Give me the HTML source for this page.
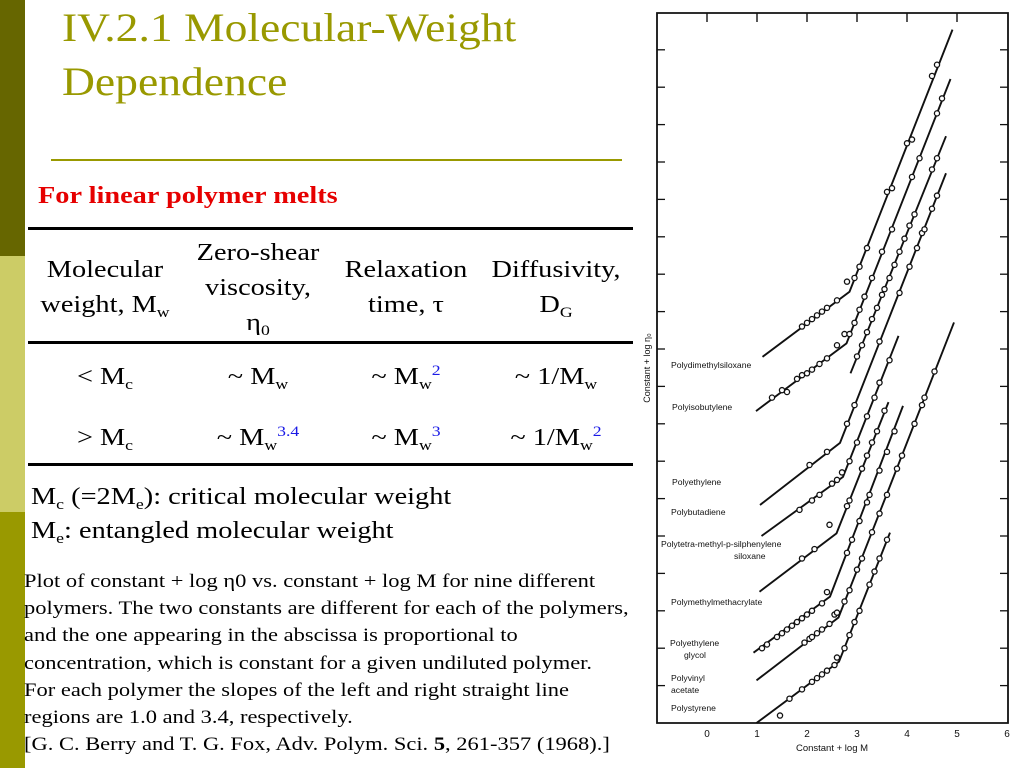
<!DOCTYPE html>
<html><head><meta charset="utf-8"><style>
body{margin:0;width:1024px;height:768px;overflow:hidden;background:#fff;position:relative;font-family:"Liberation Serif",serif;}
.abs{position:absolute;margin:0;white-space:nowrap;}
.t{font-size:24px;color:#000;text-align:center;line-height:35px;transform:scaleX(1.18);transform-origin:center top;}
.sl{transform-origin:left top;}
sub{font-size:15px;vertical-align:-5px;line-height:0}
sup{font-size:15px;vertical-align:9px;line-height:0;color:#1a1ae6}
.hl{position:absolute;left:28px;width:605px;height:3px;background:#000}
</style></head><body>
<div class="abs" style="left:0;top:0;width:25px;height:256px;background:#666600"></div>
<div class="abs" style="left:0;top:256px;width:25px;height:256px;background:#cccc66"></div>
<div class="abs" style="left:0;top:512px;width:25px;height:256px;background:#999900"></div>
<div class="abs sl" style="left:62px;top:1px;font-size:40px;line-height:54px;color:#999900;transform:scaleX(1.14)">IV.2.1 Molecular-Weight<br>Dependence</div>
<div class="abs" style="left:51px;top:159px;width:571px;height:2px;background:#999900"></div>
<div class="abs sl" style="left:38px;top:183px;font-size:24px;font-weight:bold;color:#e60000;transform:scaleX(1.18)">For linear polymer melts</div>
<div class="hl" style="top:227px"></div>
<div class="hl" style="top:341px"></div>
<div class="hl" style="top:463px"></div>
<div class="abs t" style="left:25px;width:160px;top:253px">Molecular<br>weight, M<sub>w</sub></div>
<div class="abs t" style="left:183px;width:150px;top:236px">Zero-shear<br>viscosity,<br>η<sub>0</sub></div>
<div class="abs t" style="left:331px;width:150px;top:253px">Relaxation<br>time, τ</div>
<div class="abs t" style="left:481px;width:150px;top:253px">Diffusivity,<br>D<sub>G</sub></div>
<div class="abs t" style="left:25px;width:160px;top:360px">&lt; M<sub>c</sub></div>
<div class="abs t" style="left:183px;width:150px;top:360px">~ M<sub>w</sub></div>
<div class="abs t" style="left:331px;width:150px;top:360px">~ M<sub>w</sub><sup>2</sup></div>
<div class="abs t" style="left:481px;width:150px;top:360px">~ 1/M<sub>w</sub></div>
<div class="abs t" style="left:25px;width:160px;top:421px">&gt; M<sub>c</sub></div>
<div class="abs t" style="left:183px;width:150px;top:421px">~ M<sub>w</sub><sup>3.4</sup></div>
<div class="abs t" style="left:331px;width:150px;top:421px">~ M<sub>w</sub><sup>3</sup></div>
<div class="abs t" style="left:481px;width:150px;top:421px">~ 1/M<sub>w</sub><sup>2</sup></div>
<div class="abs sl" style="left:31px;top:480px;font-size:24px;line-height:34px;transform:scaleX(1.18)">M<sub>c</sub> (=2M<sub>e</sub>): critical molecular weight<br>M<sub>e</sub>: entangled molecular weight</div>
<div class="abs sl" style="left:24px;top:569px;font-size:18.5px;line-height:27.2px;transform:scaleX(1.215)">Plot of constant + log η0 vs. constant + log M for nine different<br>polymers. The two constants are different for each of the polymers,<br>and the one appearing in the abscissa is proportional to<br>concentration, which is constant for a given undiluted polymer.<br>For each polymer the slopes of the left and right straight line<br>regions are 1.0 and 3.4, respectively.<br>[G. C. Berry and T. G. Fox, Adv. Polym. Sci. <b>5</b>, 261-357 (1968).]</div>
<svg class="abs" style="left:0;top:0" width="1024" height="768" id="chart"></svg>
<script>
const xTicks=[0,1,2,3,4,5,6];
const yTicks=[1,2,3,4,5,6,7,8,9,10,11,12,13,14,15,16,17,18];
const names=["Polydimethylsiloxane","Polyisobutylene","","Polyethylene","Polybutadiene","Polytetramethyl-p-silphenylene siloxane","Polymethylmethacrylate","Polyethylene glycol","Polystyrene"];
const lineStart=[[1.11,9.79],[0.98,8.34],null,[1.06,5.83],[1.09,5.0],[1.05,3.51],[0.93,1.88],[0.99,1.14],[0.99,0]];
const lineBreak=[[2.85,11.53],[2.79,10.15],[2.87,9.35],[2.66,7.49],[2.72,6.58],[2.59,5.07],[2.46,3.38],[2.63,2.82],[2.64,1.64]];
const lineEnd=[[4.91,18.54],[4.87,17.22],[4.78,15.69],[4.78,14.7],[3.83,10.35],[3.63,8.58],[3.92,8.48],[4.94,10.71],[3.66,5.09]];
const pts=[
[[1.9,10.6],[2.0,10.7],[2.1,10.8],[2.2,10.9],[2.3,11.0],[2.4,11.1],[2.6,11.3],[2.8,11.8],[2.95,11.9],[3.05,12.2],[3.2,12.7],[3.6,14.2],[3.7,14.3],[4.0,15.5],[4.1,15.6],[4.5,17.3],[4.6,17.6]],
[[1.3,8.7],[1.5,8.9],[1.6,8.85],[1.8,9.2],[1.9,9.3],[2.0,9.35],[2.1,9.45],[2.25,9.6],[2.4,9.75],[2.6,10.1],[2.75,10.4],[2.85,10.4],[2.95,10.7],[3.05,11.05],[3.15,11.4],[3.3,11.9],[3.5,12.6],[3.7,13.2],[4.1,14.6],[4.25,15.1],[4.6,16.3],[4.7,16.7]],
[[3.0,9.8],[3.1,10.1],[3.2,10.45],[3.3,10.8],[3.4,11.1],[3.5,11.45],[3.55,11.6],[3.65,11.9],[3.75,12.25],[3.85,12.6],[3.95,12.95],[4.05,13.3],[4.15,13.6],[4.5,14.8],[4.6,15.1]],
[[2.05,6.9],[2.4,7.25],[2.8,8.0],[2.95,8.5],[3.45,10.2],[3.85,11.5],[4.05,12.2],[4.2,12.7],[4.3,13.1],[4.35,13.2],[4.5,13.75],[4.6,14.1]],
[[1.85,5.7],[2.1,5.95],[2.25,6.1],[2.5,6.4],[2.6,6.5],[2.7,6.7],[2.85,7.0],[3.0,7.5],[3.2,8.2],[3.35,8.7],[3.45,9.1],[3.65,9.7]],
[[1.9,4.4],[2.15,4.65],[2.45,5.3],[2.8,5.8],[2.85,5.95],[3.1,6.8],[3.2,7.15],[3.3,7.5],[3.4,7.8],[3.55,8.35]],
[[1.1,2.0],[1.2,2.1],[1.4,2.3],[1.5,2.4],[1.6,2.5],[1.7,2.6],[1.8,2.7],[1.9,2.8],[2.0,2.9],[2.1,3.0],[2.3,3.2],[2.4,3.5],[2.8,4.55],[2.9,4.9],[3.05,5.4],[3.2,5.9],[3.25,6.1],[3.45,6.75],[3.6,7.25],[3.75,7.8]],
[[1.95,2.15],[2.05,2.25],[2.1,2.3],[2.2,2.4],[2.3,2.5],[2.45,2.65],[2.55,2.9],[2.6,2.95],[2.75,3.25],[2.85,3.55],[3.0,4.1],[3.1,4.4],[3.3,5.1],[3.45,5.6],[3.6,6.1],[3.8,6.8],[3.9,7.15],[4.15,8.0],[4.3,8.5],[4.35,8.7],[4.55,9.4]],
[[1.46,0.2],[1.65,0.65],[1.9,0.9],[2.1,1.1],[2.2,1.2],[2.3,1.3],[2.4,1.4],[2.55,1.55],[2.6,1.75],[2.75,2.0],[2.85,2.35],[2.95,2.7],[3.05,3.0],[3.25,3.7],[3.35,4.05],[3.45,4.4],[3.6,4.9]]
];
const svg=document.getElementById('chart');
const NS='http://www.w3.org/2000/svg';
const sx=v=>707+50*v, sy=v=>723-37.4*v;
function mk(tag,attrs){const e=document.createElementNS(NS,tag);for(const k in attrs)e.setAttribute(k,attrs[k]);svg.appendChild(e);return e;}
const frame=mk('path',{d:'M1008,13 L657,13 L657,723 L1008,723 Z',fill:'none',stroke:'#111','stroke-width':1.8});


xTicks.forEach(t=>{
  if(t<6){const tk=mk('line',{x1:sx(t),x2:sx(t),y1:13,y2:22,stroke:'#111','stroke-width':1.4});
  
  }
  const lb=mk('text',{x:sx(t),y:737,'font-size':10,'text-anchor':'middle','font-family':'Liberation Sans, sans-serif',fill:'#111'});
  lb.textContent=t;
  
  
});
yTicks.forEach(t=>{
  const a=mk('line',{x1:657,x2:665,y1:sy(t),y2:sy(t),stroke:'#111','stroke-width':1.3});
  
  
  const b=mk('line',{x1:1000,x2:1008,y1:sy(t),y2:sy(t),stroke:'#111','stroke-width':1.3});
  
  
});
const xl=mk('text',{x:832,y:751,'font-size':9.5,'text-anchor':'middle','font-family':'Liberation Sans, sans-serif',fill:'#111'});
xl.textContent='Constant + log M';


const yl=mk('text',{x:0,y:0,'font-size':9,'text-anchor':'middle','font-family':'Liberation Sans, sans-serif',fill:'#111',transform:'translate(650,368) rotate(-90)'});
yl.textContent='Constant + log η₀';


for(let i=0;i<lineBreak.length;i++){
  let d='';
  if(lineStart[i]) d='M'+sx(lineStart[i][0])+','+sy(lineStart[i][1])+' L';
  else d='M';
  d+=sx(lineBreak[i][0])+','+sy(lineBreak[i][1])+' L'+sx(lineEnd[i][0])+','+sy(lineEnd[i][1]);
  const p=mk('path',{d:d,fill:'none',stroke:'#111','stroke-width':1.9});
  
  
  pts[i].forEach(q=>{
    const c=mk('circle',{cx:sx(q[0]),cy:sy(q[1]),r:2.6,fill:'#fff',stroke:'#111','stroke-width':1.3});
    
    
  });
}
const labels=[["Polydimethylsiloxane",671,368],["Polyisobutylene",672,410],["Polyethylene",672,485],["Polybutadiene",671,515],["Polytetra-methyl-p-silphenylene",661,547],["siloxane",734,559],["Polymethylmethacrylate",671,605],["Polyethylene",670,646],["glycol",684,658],["Polyvinyl",671,681],["acetate",671,693],["Polystyrene",671,711]];
labels.forEach(l=>{
  const t=mk('text',{x:l[1],y:l[2],'font-size':8.6,'font-family':'Liberation Sans, sans-serif',fill:'#111'});
  t.textContent=l[0];
  
  
});
</script>
</body></html>
